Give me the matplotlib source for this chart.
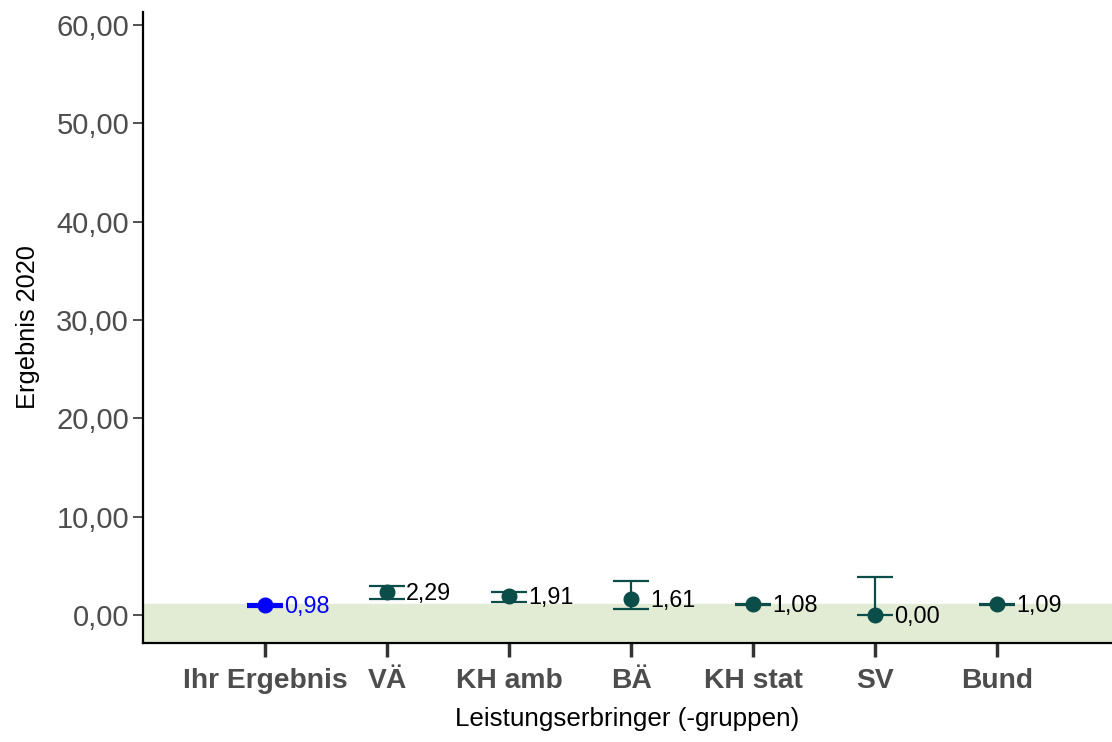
import numpy as np
import matplotlib.pyplot as plt

plt.rcParams['font.family'] = ['Liberation Sans', 'DejaVu Sans']

categories = ['Ihr Ergebnis', 'VÄ', 'KH amb', 'BÄ', 'KH stat', 'SV', 'Bund']
values = [0.98, 2.29, 1.91, 1.61, 1.08, 0.00, 1.09]
lower = [0.93, 1.60, 1.35, 0.58, 1.03, 0.00, 1.06]
upper = [1.03, 2.95, 2.37, 3.49, 1.13, 3.90, 1.12]
labels = ['0,98', '2,29', '1,91', '1,61', '1,08', '0,00', '1,09']
reference = 1.09
yticks = [0, 10, 20, 30, 40, 50, 60]

teal = '#0b4d48'
blue = '#0000ff'

fig = plt.figure(figsize=(11.12, 7.42), dpi=100)
ax = fig.add_axes([0.1286, 0.1334, 0.8714, 0.8504])

x = np.arange(1, len(categories) + 1)
ax.axhspan(-10, reference, color='#e2ebd3', zorder=0)

for i in range(len(categories)):
    col = blue if i == 0 else teal
    lw = 3.0 if i == 0 else 1.6
    err = [[values[i] - lower[i]], [upper[i] - values[i]]]
    ax.errorbar(x[i], values[i], yerr=err, fmt='o', color=col, ecolor=col,
                markersize=10.5, elinewidth=lw, capsize=13, capthick=lw, zorder=3)
    ax.text(x[i] + 0.155, values[i] - 0.15, labels[i],
            color=blue if i == 0 else 'black', fontsize=16.8,
            va='center', ha='left', zorder=4)

ax.set_xlim(0, 7.94)
ax.set_ylim(-2.85, 61.3)
ax.set_xticks(x)
ax.set_xticklabels(categories, fontsize=20.3, fontweight='bold', color='#4d4d4d')
ax.set_yticks(yticks)
ax.set_yticklabels(['%d,00' % v for v in yticks], fontsize=21, color='#4d4d4d')
ax.tick_params(axis='x', length=10, width=2.5, color='#333333', pad=8)
ax.tick_params(axis='y', length=7, width=1.2, color='#333333', pad=3)

ax.set_xlabel('Leistungserbringer (-gruppen)', fontsize=18.7, labelpad=9)
ax.set_ylabel('Ergebnis 2020', fontsize=18.3, labelpad=12)

ax.spines['top'].set_visible(False)
ax.spines['right'].set_visible(False)
ax.spines['left'].set_linewidth(1.6)
ax.spines['bottom'].set_linewidth(1.6)

fig.savefig('out.png', dpi=100)
